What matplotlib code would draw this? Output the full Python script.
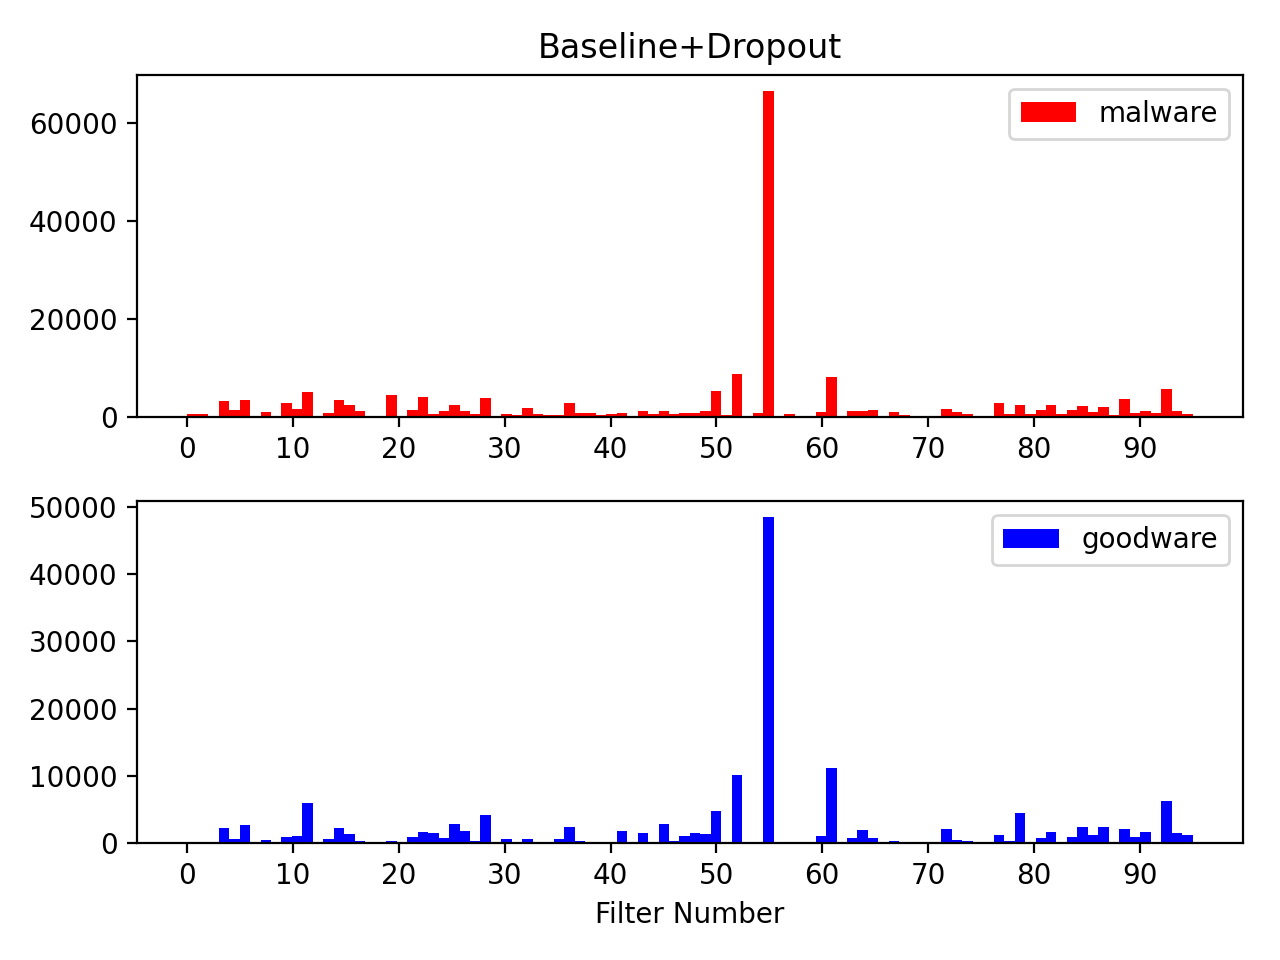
import numpy as np
import matplotlib
matplotlib.use("Agg")
import matplotlib.pyplot as plt

filters = list(range(96))

malware = [500, 500, 0, 3130, 1290, 3330, 0, 880, 0, 2720,
           1500, 4960, 0, 680, 3330, 2310, 1090, 0, 0, 4350,
           0, 1290, 3940, 480, 1090, 2310, 1090, 480, 3740, 0,
           480, 270, 1700, 480, 270, 270, 2720, 680, 680, 270,
           480, 680, 0, 1090, 480, 1090, 480, 680, 680, 1090,
           5240, 270, 8640, 0, 680, 66400, 0, 480, 0, 0,
           880, 8020, 0, 1090, 1090, 1290, 0, 880, 270, 0,
           0, 0, 1500, 880, 480, 0, 0, 2720, 480, 2310,
           480, 1290, 2310, 480, 1290, 2110, 880, 1900, 270, 3540,
           680, 1090, 680, 5580, 1090, 480]

goodware = [150, 150, 0, 2230, 600, 2680, 0, 450, 0, 890,
            1040, 5950, 0, 600, 2230, 1340, 300, 0, 0, 300,
            0, 890, 1640, 1490, 740, 2830, 1790, 300, 4170, 0,
            600, 0, 600, 0, 0, 600, 2380, 300, 0, 0,
            0, 1790, 0, 1490, 150, 2830, 300, 1040, 1490, 1340,
            4760, 150, 10120, 0, 0, 48450, 0, 150, 0, 150,
            1040, 11160, 0, 740, 1930, 740, 0, 300, 0, 150,
            0, 0, 2080, 450, 300, 0, 0, 1190, 300, 4460,
            150, 740, 1640, 0, 890, 2380, 1190, 2380, 0, 2080,
            890, 1640, 150, 6250, 1490, 1190]

fig, (ax1, ax2) = plt.subplots(2, 1, figsize=(6.4, 4.8), dpi=200)

ax1.hist(filters, bins=96, weights=malware, color='red', label='malware')
ax1.set_title('Baseline+Dropout')
ax1.set_xticks(range(0, 91, 10))
ax1.legend(loc='upper right')

ax2.hist(filters, bins=96, weights=goodware, color='blue', label='goodware')
ax2.set_xticks(range(0, 91, 10))
ax2.set_xlabel('Filter Number')
ax2.legend(loc='upper right')

fig.subplots_adjust(left=0.107, right=0.971, top=0.922, bottom=0.122, hspace=0.247)
fig.savefig('out.png', dpi=200)
